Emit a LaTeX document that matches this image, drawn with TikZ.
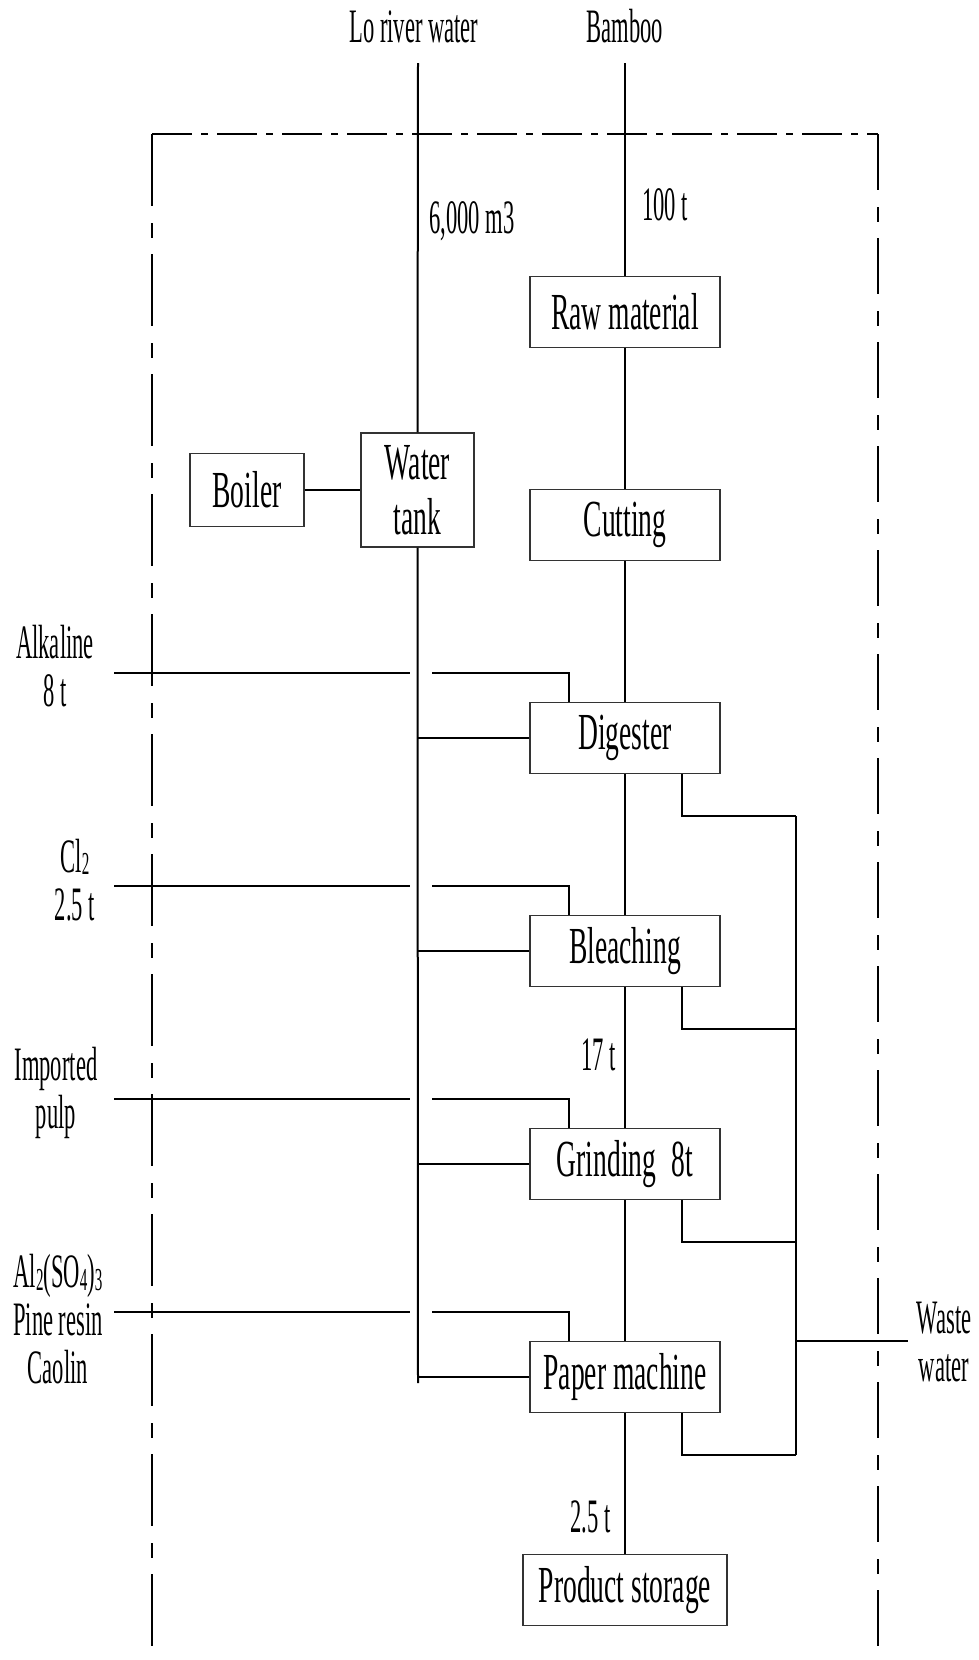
\documentclass[tikz,border=0pt]{standalone}
\usepackage{fontspec}
\setmainfont[FakeStretch=0.53]{Liberation Serif}
\newfontfamily\lblfont[FakeStretch=0.47]{Liberation Serif}
\usetikzlibrary{calc}
\newcommand{\chemsub}[1]{\raisebox{-0.12ex}{\fontsize{16}{16}\selectfont #1}}

\begin{document}
\begin{tikzpicture}[x=0.5pt,y=-0.5pt,font=\fontsize{26}{24}\selectfont,
    unit/.style={draw=black!80,line width=0.6pt,minimum width=95pt,
                 minimum height=35.5pt,inner sep=2pt,align=center},
    flow/.style={line width=1pt},
    lbl/.style={inner sep=0pt,align=center,font=\lblfont\fontsize{24}{24}\selectfont},
    fence/.style={line width=0.9pt}]
  \useasboundingbox (0,0) rectangle (979,1660);

  % mill boundary
  \draw[fence,dash pattern=on 36pt off 8.5pt on 7.5pt off 8pt] (152,134) -- (152,1660);
  \draw[fence,dash pattern=on 28pt off 8.5pt on 7.5pt off 8pt] (878,134) -- (878,1660);
  \draw[fence,dash pattern=on 20pt off 4.5pt on 3.5pt off 4.5pt] (152,134) -- (878,134);

  % process line
  \foreach \i/\nm/\txt in {%
    0/raw/{Raw material},
    1/cut/{Cutting},
    2/dig/{Digester},
    3/bleach/{Bleaching},
    4/grind/{Grinding\hspace{0.3em}8t},
    5/paper/{Paper machine}}
  {
    \node[unit] (\nm) at (625,{312+213*\i}) {\txt};
  }
  \node[unit,minimum width=102pt] (store) at (625,1590) {Product storage};
  \node[unit,minimum width=56.5pt,minimum height=57pt,
        font=\fontsize{26}{27.5}\selectfont] (tank) at (417.5,490) {Water\\tank};
  \node[unit,minimum width=57pt,minimum height=36.5pt] (boiler) at (247,490) {Boiler};

  \coordinate (wtop) at (418,63);
  \coordinate (wbot) at (418,1383);
  \coordinate (btop) at (625,63);
  \coordinate (feed) at (114,0);
  \coordinate (coll) at (796,0);
  \coordinate (wout) at (908,1341);

  % main flows
  \draw[flow] (wtop) -- (tank.north);
  \draw[flow] (tank.south) -- (wbot);
  \draw[flow] (boiler.east) -- (tank.west);
  \draw[flow] (btop) -- (raw.north);
  \draw[flow] (raw) -- (cut) -- (dig) -- (bleach) -- (grind) -- (paper) -- (store);

  % water, additives and waste
  \foreach \nm in {dig,bleach,grind,paper}
  {
    \draw[flow] (\nm.west -| wbot) -- (\nm.west);
    \draw[flow] ($(\nm.north -| feed)+(0,-29)$) -- ($(\nm.north -| wbot)+(-8,-29)$);
    \draw[flow] ($(\nm.north -| wbot)+(14,-29)$) -| ($(\nm.north)+(-56,0)$);
    \draw[flow] ($(\nm.south)+(57,0)$) |- ($(\nm.south -| coll)+(0,42)$);
  }
  \draw[flow] ($(dig.south -| coll)+(0,42)$) -- ($(paper.south -| coll)+(0,42)$);
  \draw[flow] (coll |- wout) -- (wout);

  % labels
  \node[lbl,anchor=base] (river) at (414,42) {Lo river water};
  \node[lbl,anchor=base] (bamboo) at (625,42) {Bamboo};
  \node[lbl,anchor=base west] (qw) at (429,233) {6,000 m3};
  \node[lbl,anchor=base west] (qb) at (642,220) {100 t};
  \node[lbl,anchor=base east] (qg) at (616,1070) {17 t};
  \node[lbl,anchor=base east] (qp) at (611,1532) {2.5 t};
  \node[lbl] (alk) at (55,666) {Alkaline\\8 t};
  \node[lbl] (chl) at (75,880) {Cl\chemsub{2}\\2.5 t};
  \node[lbl] (pulp) at (56,1093) {Imported\\pulp};
  \node[lbl] (fill) at (58,1319) {Al\chemsub{2}(SO\chemsub{4})\chemsub{3}\\Pine resin\\Caolin};
  \node[lbl] (waste) at (944,1342) {Waste\\water};
\end{tikzpicture}
\end{document}
